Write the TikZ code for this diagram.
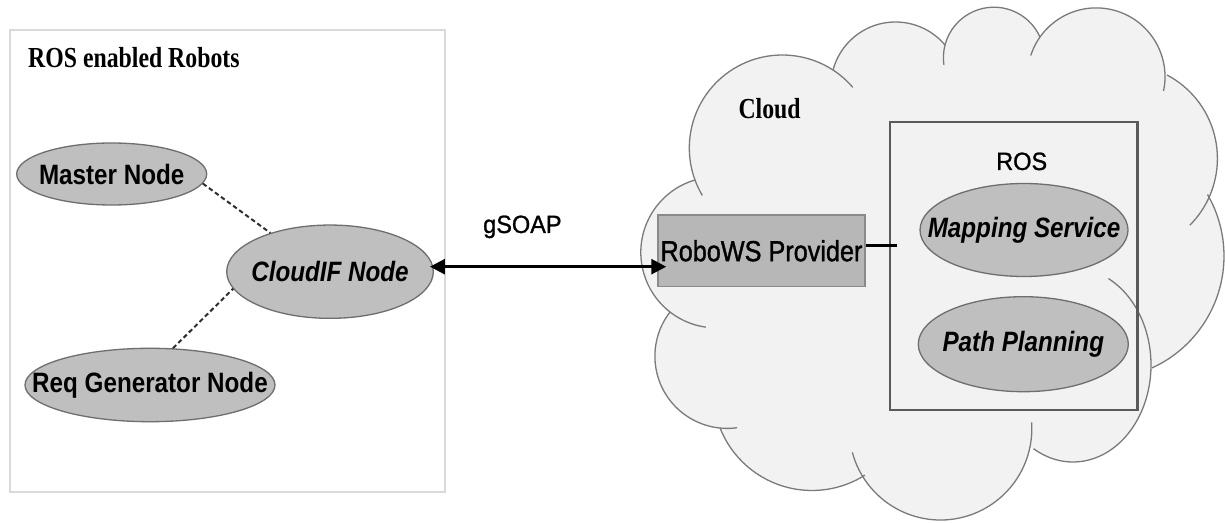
\documentclass[tikz,border=0pt]{standalone}
\usepackage{fontspec}
\usetikzlibrary{shapes.geometric,arrows.meta}
\newfontfamily\fA[FakeStretch=0.865]{Liberation Sans}
\newfontfamily\fB[FakeStretch=0.87,FakeBold=1.2]{Liberation Sans}
\newfontfamily\fC[FakeStretch=0.94,FakeBold=1.0]{Liberation Sans}
\newfontfamily\fS[FakeStretch=0.82]{Liberation Serif}
\definecolor{ellfill}{HTML}{BFBFBF}
\definecolor{ellline}{HTML}{6E6E6E}
\definecolor{cloudfill}{HTML}{F2F2F2}
\definecolor{cloudline}{HTML}{7A7A7A}
\definecolor{rwfill}{HTML}{B7B7B7}
\definecolor{rwline}{HTML}{8A8A8A}
\definecolor{rosline}{HTML}{5A5A5A}
\definecolor{boxline}{HTML}{D9D9D9}
\definecolor{dashcol}{HTML}{2E2E2E}
\begin{document}
\begin{tikzpicture}[x=1pt,y=1pt,
  ell/.style={ellipse,draw=ellline,fill=ellfill,line width=1.3pt,inner sep=0pt},
  lblB/.style={font=\fA\bfseries\fontsize{28}{30}\selectfont},
  lblBI/.style={font=\fA\bfseries\itshape\fontsize{28}{30}\selectfont},
  serifttl/.style={font=\fS\bfseries\fontsize{29}{31}\selectfont,inner sep=0pt},
  plainlbl/.style={font=\fC\fontsize{25}{27}\selectfont,inner sep=0pt},
  bump/.style={draw=cloudline,line width=1.3pt},
  dashln/.style={draw=dashcol,line width=2pt,dash pattern=on 4.5pt off 3pt},
  conn/.style={draw=black,line width=3pt},
  dbl/.style={draw=black,line width=2.6pt,{Triangle[length=15pt,width=15pt]}-{Triangle[length=15pt,width=15pt]}}
]
\useasboundingbox (0,0) rectangle (1225,522);
\fill[white] (0,0) rectangle (1225,522);

% left container
\node[draw=boxline,line width=1.5pt,minimum width=435pt,minimum height=462pt,inner sep=0pt] (robots) at (227.5,261) {};
\node[serifttl,anchor=base west] (robotsttl) at (28,454.3) {ROS enabled Robots};

% cloud fill
\path[fill=cloudfill]
  ([shift={(782.3,374)}]57:93) arc[start angle=57,end angle=200.1,radius=93]
  -- ([shift={(716.3,269.6)}]106.3:75.5) arc[start angle=106.3,end angle=232.3,radius=75.5]
  -- ([shift={(727.1,165.8)}]142.3:72.2) arc[start angle=142.3,end angle=264.4,radius=72.2]
  -- ([shift={(812,130.4)}]201.6:98.9) arc[start angle=201.6,end angle=302.4,radius=98.9]
  -- ([shift={(940.5,93.3)}]211.9:91.3) arc[start angle=211.9,end angle=348.4,radius=91.3]
  -- ([shift={(1073,157)}]239.6:78 and 97) arc[start angle=239.6,end angle=360,x radius=78,y radius=97]
  -- ([shift={(1101,266)}]294.5:123) arc[start angle=294.5,end angle=390,radius=123]
  -- ([shift={(1123,363.5)}]-21.6:94.4) arc[start angle=-21.6,end angle=62.2,radius=94.4]
  -- ([shift={(1096.2,445.3)}]1.4:68.8) arc[start angle=1.4,end angle=144.8,radius=68.8]
  -- ([shift={(993.9,464.3)}]24.2:50.5) arc[start angle=24.2,end angle=165.4,radius=50.5]
  -- ([shift={(895.5,435.3)}]40.1:64.7) arc[start angle=40.1,end angle=165,radius=64.7]
  -- cycle;
% cloud outline bumps (with inner tails)
\draw[bump] ([shift={(782.3,374)}]40.7:93) arc[start angle=40.7,end angle=210.7,radius=93];
\draw[bump] ([shift={(716.3,269.6)}]106.3:75.5) arc[start angle=106.3,end angle=262,radius=75.5];
\draw[bump] ([shift={(727.1,165.8)}]142.3:72.2) arc[start angle=142.3,end angle=278,radius=72.2];
\draw[bump] ([shift={(812,130.4)}]201.6:98.9) arc[start angle=201.6,end angle=302.4,radius=98.9];
\draw[bump] ([shift={(940.5,93.3)}]195:91.3) arc[start angle=195,end angle=364,radius=91.3];
\draw[bump] ([shift={(1073,157)}]239.6:78 and 97) arc[start angle=239.6,end angle=423,x radius=78,y radius=97];
\draw[bump] ([shift={(1101,266)}]294.5:123) arc[start angle=294.5,end angle=390,radius=123];
\draw[bump] ([shift={(1123,363.5)}]-45:94.4) arc[start angle=-45,end angle=62.2,radius=94.4];
\draw[bump] ([shift={(1096.2,445.3)}]-12:68.8) arc[start angle=-12,end angle=162,radius=68.8];
\draw[bump] ([shift={(993.9,464.3)}]24.2:50.5) arc[start angle=24.2,end angle=188,radius=50.5];
\draw[bump] ([shift={(895.5,435.3)}]40.1:64.7) arc[start angle=40.1,end angle=165,radius=64.7];
\node[serifttl,anchor=base west] (cloudttl) at (738.3,403.7) {Cloud};

% ROS box
\node[draw=rosline,line width=2.5pt,minimum width=247.5pt,minimum height=288pt,inner sep=0pt] (ros) at (1013.75,256) {};
\node[plainlbl,anchor=base] (rosttl) at (1021.7,352) {ROS};

% RoboWS provider
\node[draw=rwline,fill=rwfill,line width=1.5pt,minimum width=207pt,minimum height=71.7pt,inner sep=0pt,
      font=\fB\fontsize{29}{31}\selectfont] (robows) at (761.5,271.2) {\makebox[0pt]{RoboWS Provider}};

% ellipses
\node[ell,lblB,minimum width=190pt,minimum height=62pt] (master) at (111.7,348) {\makebox[0pt]{Master Node}};
\node[ell,lblBI,minimum width=206.6pt,minimum height=93.3pt] (cloudif) at (330,250.3) {\makebox[0pt]{CloudIF Node}};
\node[ell,lblB,minimum width=250pt,minimum height=73.4pt] (req) at (150,137) {\makebox[0pt]{Req Generator Node}};
\node[ell,lblBI,minimum width=208pt,minimum height=93pt] (mapping) at (1024,292) {\makebox[0pt]{Mapping Service}};
\node[ell,lblBI,minimum width=210pt,minimum height=95pt] (path) at (1023.3,177.8) {\makebox[0pt]{Path Planning}};

% connectors
\draw[dashln] (master.-6) -- (cloudif.147);
\draw[dashln] (req.58) -- (cloudif.190);
\coordinate (rwin) at ([xshift=9pt]robows.west);
\coordinate (rosin) at ([xshift=8pt]ros.west);
\draw[dbl] ([xshift=-4pt,yshift=5pt]cloudif.east) -- ([yshift=5pt]cloudif.east -| rwin);
\draw[conn] ([yshift=4.8pt]robows.east) -- ([yshift=4.8pt]robows.east -| rosin);
\node[plainlbl,anchor=base west] (gsoap) at (483,289) {gSOAP};
\end{tikzpicture}
\end{document}
